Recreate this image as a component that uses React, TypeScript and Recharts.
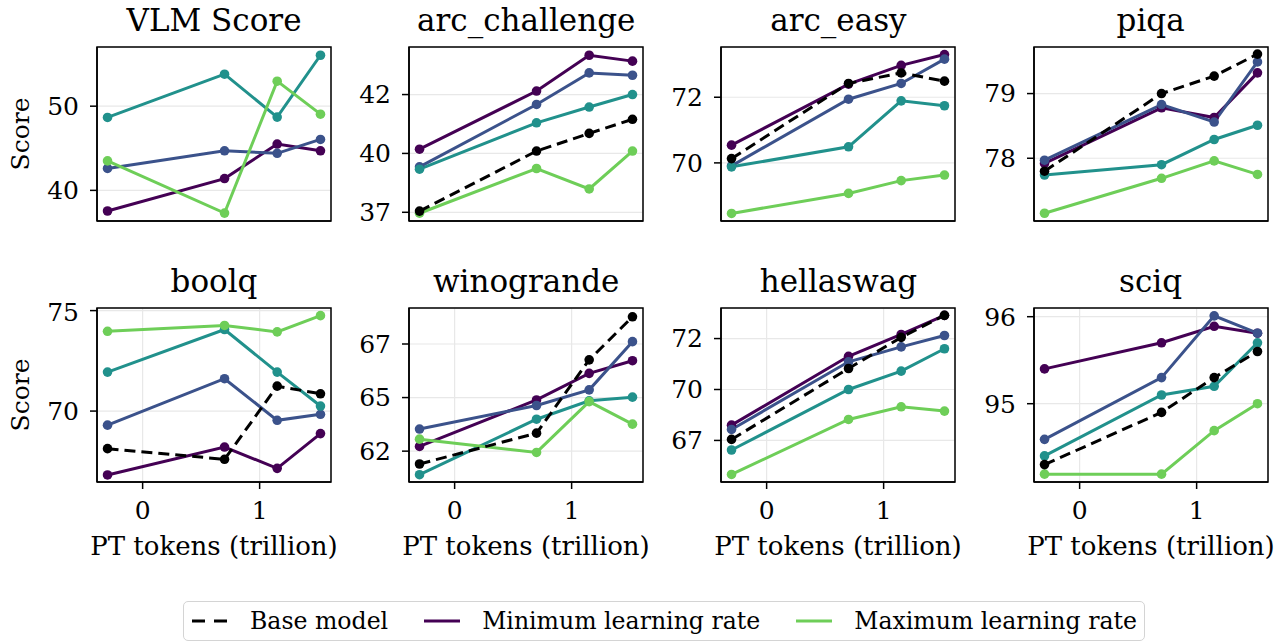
import { CartesianGrid, Line, LineChart, ReferenceArea, XAxis, YAxis } from "recharts"

const FONT = '"DejaVu Serif", serif'

// x positions of the four checkpoints, as plotted
const X_TOKENS = [-0.3, 0.7, 1.15, 1.52]
const X_DOMAIN: [number, number] = [-0.39, 1.61]
const X_TICKS = [0, 1]

const BENCHMARKS = [
  "VLM Score",
  "arc_challenge",
  "arc_easy",
  "piqa",
  "boolq",
  "winogrande",
  "hellaswag",
  "sciq",
]

const BASE_MODEL: (number[] | null)[] = [
  null,
  [37.55, 40.1, 40.85, 41.45],
  [70.13, 72.42, 72.74, 72.49],
  [77.8, 79.0, 79.27, 79.61],
  [68.13, 67.6, 71.24, 70.86],
  [61.9, 63.34, 66.76, 68.77],
  [67.55, 71.03, 72.56, 73.64],
  [94.3, 94.9, 95.3, 95.6],
]
const MIN_LR = [
  [37.55, 41.4, 45.5, 44.7],
  [40.18, 42.65, 44.17, 43.92],
  [70.54, 72.4, 72.97, 73.3],
  [77.92, 78.78, 78.63, 79.32],
  [66.82, 68.21, 67.15, 68.88],
  [62.72, 64.89, 66.13, 66.72],
  [68.25, 71.63, 72.7, 73.64],
  [95.4, 95.7, 95.89, 95.81],
]
const LOW_MID_LR = [
  [42.6, 44.7, 44.4, 46.05],
  [39.43, 42.08, 43.42, 43.32],
  [69.91, 71.94, 72.42, 73.16],
  [77.97, 78.83, 78.56, 79.49],
  [69.3, 71.61, 69.54, 69.84],
  [63.53, 64.63, 65.36, 67.61],
  [68.04, 71.36, 72.09, 72.65],
  [94.59, 95.3, 96.01, 95.81],
]
const HIGH_MID_LR = [
  [48.66, 53.8, 48.7, 56.05],
  [39.33, 41.3, 41.97, 42.5],
  [69.88, 70.49, 71.89, 71.74],
  [77.74, 77.9, 78.29, 78.51],
  [71.94, 74.06, 71.94, 70.25],
  [61.4, 63.99, 64.85, 65.02],
  [67.03, 70.0, 70.9, 72.0],
  [94.4, 95.1, 95.2, 95.7],
]
const MAX_LR = [
  [43.5, 37.3, 52.97, 49.05],
  [37.46, 39.36, 38.49, 40.1],
  [68.46, 69.07, 69.46, 69.63],
  [77.15, 77.69, 77.96, 77.75],
  [73.97, 74.26, 73.94, 74.75],
  [63.06, 62.44, 64.81, 63.76],
  [65.83, 68.53, 69.15, 68.94],
  [94.19, 94.19, 94.69, 95.0],
]

const Y_DOMAINS: [number, number][] = [
  [36.36, 57.03],
  [37.13, 44.52],
  [68.23, 73.53],
  [77.03, 79.72],
  [66.47, 75.13],
  [61.06, 69.18],
  [65.46, 74.0],
  [94.1, 96.1],
]
// tick labels are truncated to integers (37.5 -> "37")
const Y_TICKS = [
  [40, 50],
  [37.5, 40, 42.5],
  [70, 72],
  [78, 79],
  [70, 75],
  [62.5, 65, 67.5],
  [67.5, 70, 72.5],
  [95, 96],
]

const SERIES = [
  { key: "min", values: MIN_LR, color: "#440154", dashed: false },
  { key: "lowMid", values: LOW_MID_LR, color: "#3b528b", dashed: false },
  { key: "highMid", values: HIGH_MID_LR, color: "#21918c", dashed: false },
  { key: "max", values: MAX_LR, color: "#6ece58", dashed: false },
  { key: "base", values: BASE_MODEL, color: "#000000", dashed: true },
]

const LEGEND_ITEMS = [
  { label: "Base model", color: "#000000", dashed: true },
  { label: "Minimum learning rate", color: "#440154", dashed: false },
  { label: "Maximum learning rate", color: "#6ece58", dashed: false },
]

// layout of the plot boxes
const BOX_W = 234
const BOX_H = 174
const COL_STEP = 312.2
const FIRST_LEFT = 97
const ROW_TOPS = [46.7, 308.3]
const Y_AXIS_W = 90
const M_TOP = 10
const M_RIGHT = 10

const tickStyle = { fontSize: 25, fill: "#000", fontFamily: FONT }

function Panel({ idx }: { idx: number }) {
  const col = idx % 4
  const row = Math.floor(idx / 4)
  const boxLeft = FIRST_LEFT + COL_STEP * col
  const boxTop = ROW_TOPS[row]
  const bottomRow = row === 1
  const xAxisH = bottomRow ? 80 : 20
  const [lo, hi] = Y_DOMAINS[idx]

  const data = X_TOKENS.map((x, i) => {
    const d: Record<string, number | undefined> = { x }
    SERIES.forEach((s) => {
      const v = s.values[idx]
      d[s.key] = v ? v[i] : undefined
    })
    return d
  })

  return (
    <>
      <div
        style={{
          position: "absolute",
          left: boxLeft - 40,
          width: BOX_W + 80,
          top: boxTop - 42,
          textAlign: "center",
          fontFamily: FONT,
          fontSize: 31,
          lineHeight: "31px",
          whiteSpace: "nowrap",
        }}
      >
        {BENCHMARKS[idx]}
      </div>
      {col === 0 && (
        <div
          style={{
            position: "absolute",
            left: 21 - 60,
            top: boxTop + BOX_H / 2 - 15,
            width: 120,
            height: 30,
            lineHeight: "30px",
            textAlign: "center",
            fontFamily: FONT,
            fontSize: 25,
            transform: "rotate(-90deg)",
          }}
        >
          Score
        </div>
      )}
      <div
        style={{
          position: "absolute",
          left: boxLeft - Y_AXIS_W,
          top: boxTop - M_TOP,
        }}
      >
        <LineChart
          width={Y_AXIS_W + BOX_W + M_RIGHT}
          height={M_TOP + BOX_H + xAxisH}
          data={data}
          margin={{ top: M_TOP, right: M_RIGHT, left: 0, bottom: 0 }}
        >
          <CartesianGrid stroke="#e8e8e8" strokeWidth={1.2} />
          <XAxis
            dataKey="x"
            type="number"
            domain={X_DOMAIN}
            ticks={X_TICKS}
            allowDataOverflow
            height={xAxisH}
            tickSize={7}
            tickMargin={12}
            tick={bottomRow ? tickStyle : false}
            tickLine={{ stroke: "#000", strokeWidth: 1.5 }}
            axisLine={{ stroke: "#000", strokeWidth: 1.5 }}
            label={
              bottomRow
                ? {
                    value: "PT tokens (trillion)",
                    position: "insideBottom",
                    offset: 7,
                    style: { fontSize: 26, fill: "#000", fontFamily: FONT },
                  }
                : undefined
            }
          />
          <YAxis
            type="number"
            domain={[lo, hi]}
            ticks={Y_TICKS[idx]}
            allowDataOverflow
            width={Y_AXIS_W}
            tickSize={7}
            tickMargin={11}
            tick={tickStyle}
            tickFormatter={(v: number) => String(Math.trunc(v))}
            tickLine={{ stroke: "#000", strokeWidth: 1.5 }}
            axisLine={{ stroke: "#000", strokeWidth: 1.5 }}
          />
          <ReferenceArea
            x1={X_DOMAIN[0]}
            x2={X_DOMAIN[1]}
            y1={lo}
            y2={hi}
            fill="none"
            stroke="#000"
            strokeWidth={1.5}
          />
          {SERIES.filter((s) => s.values[idx]).map((s) => (
            <Line
              key={s.key}
              dataKey={s.key}
              stroke={s.color}
              strokeWidth={3}
              strokeDasharray={s.dashed ? "11 6" : undefined}
              dot={{ r: 4.8, fill: s.color, stroke: s.color, strokeWidth: 0, strokeDasharray: "" }}
              activeDot={false}
              isAnimationActive={false}
            />
          ))}
        </LineChart>
      </div>
    </>
  )
}

function Legend() {
  return (
    <div
      style={{
        position: "absolute",
        left: 183,
        top: 601,
        width: 962,
        height: 40,
        boxSizing: "border-box",
        border: "1.5px solid #d4d4d4",
        borderRadius: 5,
        display: "flex",
        alignItems: "center",
        paddingLeft: 8,
        fontFamily: FONT,
        fontSize: 23.6,
        whiteSpace: "nowrap",
      }}
    >
      {LEGEND_ITEMS.map((item, i) => (
        <div
          key={item.label}
          style={{ display: "flex", alignItems: "center", marginLeft: i === 0 ? 0 : 36 }}
        >
          <svg width={36} height={10} style={{ marginRight: 22 }}>
            <line
              x1={0}
              y1={5}
              x2={36}
              y2={5}
              stroke={item.color}
              strokeWidth={3}
              strokeDasharray={item.dashed ? "13 9" : undefined}
            />
          </svg>
          <span>{item.label}</span>
        </div>
      ))}
    </div>
  )
}

export default function App() {
  return (
    <div
      style={{
        position: "absolute",
        left: 0,
        top: 0,
        width: 1286,
        height: 643,
        background: "#fff",
        overflow: "hidden",
      }}
    >
      {BENCHMARKS.map((_, i) => (
        <Panel key={i} idx={i} />
      ))}
      <Legend />
    </div>
  )
}
